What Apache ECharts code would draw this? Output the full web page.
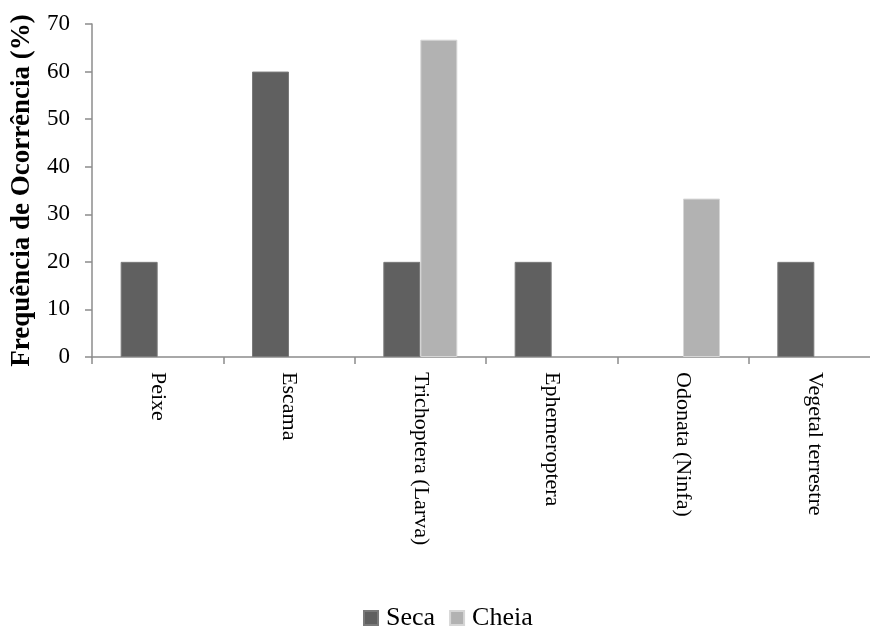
<!DOCTYPE html>
<html>
<head>
<meta charset="utf-8">
<script src="https://cdn.jsdelivr.net/npm/echarts@6/dist/echarts.min.js"></script>
<style>
  html, body { margin: 0; padding: 0; background: #fff; }
  #chart { width: 870px; height: 626px; }
</style>
</head>
<body>
<div id="chart"></div>
<script>
// Food items found in stomach contents, by season
const categories = ['Peixe', 'Escama', 'Trichoptera (Larva)', 'Ephemeroptera', 'Odonata (Ninfa)', 'Vegetal terrestre'];
const secaValues = [20, 60, 20, 20, null, 20];
const cheiaValues = [null, null, 66.7, null, 33.3, null];
const yTicks = { min: 0, max: 70, interval: 10 };
const yTitle = 'Frequência de Ocorrência (%)';

const FONT = 'Liberation Serif';
const AXIS_GREY = '#8c8c8c';

const chart = echarts.init(document.getElementById('chart'), null, { renderer: 'canvas' });

chart.setOption({
  animation: false,
  backgroundColor: '#ffffff',
  textStyle: { fontFamily: FONT, color: '#000' },
  // the last category runs a little past the right edge of the canvas
  grid: { left: 92, width: 788, top: 24, bottom: 269, containLabel: false, outerBoundsMode: 'none' },
  legend: {
    top: 600,
    left: 358,
    itemWidth: 14,
    itemHeight: 14,
    itemGap: 14,
    icon: 'rect',
    textStyle: { fontFamily: FONT, fontSize: 26, color: '#000', padding: [0, 0, 0, 3] },
    data: ['Seca', 'Cheia']
  },
  xAxis: {
    type: 'category',
    data: categories,
    axisLine: { lineStyle: { color: AXIS_GREY, width: 1.5 } },
    axisTick: { show: true, alignWithLabel: false, length: 7, lineStyle: { color: AXIS_GREY, width: 1.5 } },
    axisLabel: {
      interval: 0,
      rotate: -90,
      margin: 15,
      fontFamily: FONT,
      fontSize: 22,
      color: '#000'
    },
    splitLine: { show: false }
  },
  yAxis: {
    type: 'value',
    min: yTicks.min,
    max: yTicks.max,
    interval: yTicks.interval,
    name: yTitle,
    nameLocation: 'middle',
    nameGap: 56,
    nameRotate: 90,
    nameTextStyle: { fontFamily: FONT, fontSize: 27, fontWeight: 'bold', color: '#000' },
    axisLine: { show: true, lineStyle: { color: AXIS_GREY, width: 1.5 } },
    axisTick: { show: true, length: 7, lineStyle: { color: AXIS_GREY, width: 1.5 } },
    axisLabel: { margin: 22, fontFamily: FONT, fontSize: 23, color: '#000' },
    splitLine: { show: false }
  },
  series: [
    {
      name: 'Seca',
      type: 'bar',
      data: secaValues,
      barWidth: 37,
      barGap: '0%',
      itemStyle: { color: '#606060', borderColor: '#7a7a7a', borderWidth: 1 }
    },
    {
      name: 'Cheia',
      type: 'bar',
      data: cheiaValues,
      barWidth: 37,
      barGap: '0%',
      itemStyle: { color: '#b2b2b2', borderColor: '#d6d6d6', borderWidth: 1 }
    }
  ]
});
</script>
</body>
</html>
